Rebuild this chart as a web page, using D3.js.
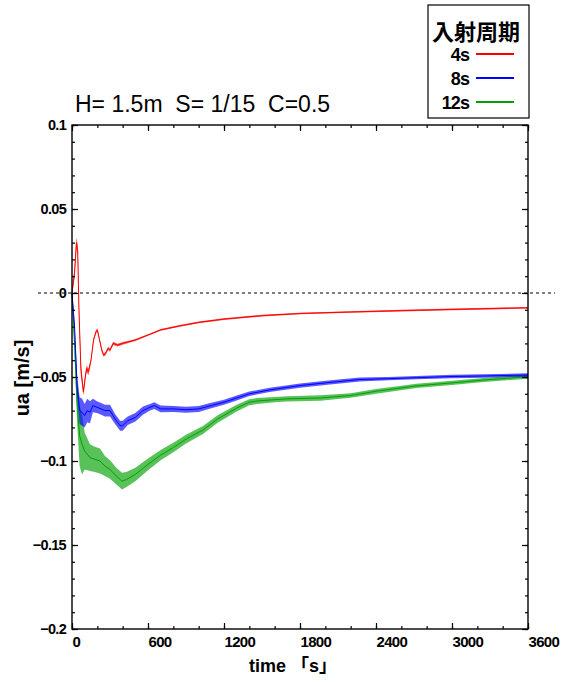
<!DOCTYPE html>
<html>
<head>
<meta charset="utf-8">
<script src="https://cdn.jsdelivr.net/npm/d3@7"></script>
<style>
  body { margin: 0; background: #fff; }
  svg { display: block; }
  text { font-family: "Liberation Sans", Arial, "Noto Sans CJK JP", sans-serif; }
</style>
</head>
<body>
<div id="chart"></div>
<script>
// --- data: [time s, ua m/s, noise half-width] ---
const xTicks = [0, 600, 1200, 1800, 2400, 3000, 3600];
const yTicks = [-0.2, -0.15, -0.1, -0.05, 0, 0.05, 0.1];

const red4s = [
  [0, 0, 0.001], [20, 0.012, 0.003], [35, 0.03, 0.003], [45, 0.025, 0.004], [55, -0.01, 0.004],
  [70, -0.045, 0.004], [90, -0.059, 0.002], [105, -0.05, 0.002], [115, -0.045, 0.002],
  [130, -0.047, 0.002], [150, -0.04, 0.001], [170, -0.028, 0.001], [190, -0.023, 0.001],
  [200, -0.022, 0.001], [215, -0.027, 0.001], [235, -0.034, 0.001], [250, -0.037, 0.001],
  [265, -0.036, 0.001], [285, -0.033, 0.001], [300, -0.034, 0.001], [325, -0.030, 0.001],
  [360, -0.031, 0.0008], [400, -0.030, 0.0008], [450, -0.029, 0.0006], [500, -0.028, 0.0006],
  [600, -0.025, 0.0005], [700, -0.022, 0.0005], [850, -0.0196, 0.0005], [1000, -0.0175, 0.0005],
  [1200, -0.0155, 0.0005], [1500, -0.0135, 0.0005], [1800, -0.0122, 0.0005], [2200, -0.0113, 0.0005],
  [2600, -0.0105, 0.0005], [3000, -0.0098, 0.0005], [3300, -0.0093, 0.0005], [3600, -0.0088, 0.0005]
];

const blue8s = [
  [0, 0, 0.001], [20, -0.02, 0.003], [40, -0.055, 0.006], [60, -0.07, 0.008], [80, -0.071, 0.008],
  [100, -0.073, 0.007], [120, -0.07, 0.007], [142, -0.071, 0.0065], [165, -0.067, 0.004],
  [197, -0.068, 0.0035], [230, -0.069, 0.0035], [260, -0.07, 0.0035], [300, -0.07, 0.0035],
  [340, -0.075, 0.003], [380, -0.079, 0.003], [400, -0.079, 0.003], [440, -0.076, 0.0025],
  [500, -0.074, 0.0025], [560, -0.07, 0.0025], [616, -0.068, 0.002], [650, -0.067, 0.002],
  [700, -0.069, 0.002], [800, -0.069, 0.0018], [900, -0.0695, 0.0018], [1000, -0.069, 0.0018],
  [1100, -0.067, 0.0016], [1200, -0.065, 0.0015], [1300, -0.0625, 0.0015], [1400, -0.06, 0.0013],
  [1560, -0.0577, 0.0013], [1800, -0.0551, 0.0013], [2000, -0.0535, 0.0012], [2270, -0.0515, 0.0012],
  [2500, -0.051, 0.001], [2720, -0.0504, 0.001], [3000, -0.0497, 0.001], [3250, -0.0494, 0.001],
  [3600, -0.0488, 0.001]
];

const green12s = [
  [0, 0, 0.001], [20, -0.03, 0.005], [40, -0.065, 0.012], [60, -0.085, 0.018], [79, -0.09, 0.018],
  [100, -0.094, 0.011], [142, -0.098, 0.008], [180, -0.099, 0.0075], [221, -0.1, 0.0075],
  [260, -0.103, 0.006], [300, -0.105, 0.0055], [350, -0.109, 0.005], [395, -0.112, 0.005],
  [430, -0.111, 0.0045], [500, -0.108, 0.004], [600, -0.102, 0.0035], [700, -0.0965, 0.003],
  [800, -0.092, 0.0028], [900, -0.087, 0.0026], [1034, -0.0815, 0.0024], [1150, -0.075, 0.0022],
  [1300, -0.0685, 0.002], [1400, -0.065, 0.0018], [1460, -0.0643, 0.0018], [1600, -0.0635, 0.0016],
  [1700, -0.063, 0.0016], [1960, -0.0625, 0.0016], [2200, -0.061, 0.0014], [2400, -0.0585, 0.0014],
  [2720, -0.0553, 0.0013], [3000, -0.0535, 0.0013], [3250, -0.0518, 0.0012], [3600, -0.0498, 0.0012]
];

const seriesNames = ["4s", "8s", "12s"];
const seriesColors = ["#ff0000", "#0000ff", "#00a000"];
const seriesData = [red4s, blue8s, green12s];

// --- SVG setup ---
const width = 573, height = 682;
const plot = { left: 72, right: 528, top: 125, bottom: 629 };

const svg = d3.select("#chart").append("svg")
  .attr("width", width)
  .attr("height", height);

const x = d3.scaleLinear().domain([0, 3600]).range([plot.left, plot.right]);
const y = d3.scaleLinear().domain([-0.2, 0.1]).range([plot.bottom, plot.top]);

const yFmt = d3.format(".2~f");
const xFmt = d3.format("d");
const minorX = d3.range(0, 3601, 200);
const minorY = d3.range(-20, 11).map(d => d / 100);

// --- series (band for the noise, thin line on top) ---
const area = d3.area()
  .x(d => x(d[0]))
  .y0(d => y(d[1] - d[2]))
  .y1(d => y(d[1] + d[2]));

const line = d3.line()
  .x(d => x(d[0]))
  .y(d => y(d[1]));

const order = [2, 1, 0];
order.forEach(i => {
  svg.append("path")
    .datum(seriesData[i])
    .attr("d", area)
    .attr("fill", seriesColors[i])
    .attr("fill-opacity", 0.65);
  svg.append("path")
    .datum(seriesData[i])
    .attr("d", line)
    .attr("fill", "none")
    .attr("stroke", seriesColors[i])
    .attr("stroke-width", 1);
});

// --- zero line ---
svg.append("line")
  .attr("x1", 38).attr("x2", 555)
  .attr("y1", y(0)).attr("y2", y(0))
  .attr("stroke", "#000")
  .attr("stroke-width", 1)
  .attr("stroke-dasharray", "3,3");

// --- axes: ticks inside on all four sides ---
function styleAxis(g) {
  g.select(".domain").remove();
  g.selectAll(".tick line").attr("stroke", "#000").attr("stroke-width", 1.2);
}

svg.append("g")
  .attr("transform", `translate(0,${plot.bottom})`)
  .call(d3.axisBottom(x).tickValues(minorX).tickSize(-3).tickFormat(""))
  .call(styleAxis);
svg.append("g")
  .attr("transform", `translate(0,${plot.top})`)
  .call(d3.axisTop(x).tickValues(minorX).tickSize(-3).tickFormat(""))
  .call(styleAxis);
svg.append("g")
  .attr("transform", `translate(${plot.left},0)`)
  .call(d3.axisLeft(y).tickValues(minorY).tickSize(-3).tickFormat(""))
  .call(styleAxis);
svg.append("g")
  .attr("transform", `translate(${plot.right},0)`)
  .call(d3.axisRight(y).tickValues(minorY).tickSize(-3).tickFormat(""))
  .call(styleAxis);

const xAxis = svg.append("g")
  .attr("transform", `translate(0,${plot.bottom})`)
  .call(d3.axisBottom(x).tickValues(xTicks).tickSize(-6).tickPadding(7).tickFormat(xFmt))
  .call(styleAxis);
xAxis.selectAll(".tick text")
  .attr("text-anchor", "start")
  .attr("font-size", 15)
  .attr("font-weight", "bold")
  .attr("letter-spacing", -0.7)
  .attr("fill", "#000");

svg.append("g")
  .attr("transform", `translate(0,${plot.top})`)
  .call(d3.axisTop(x).tickValues(xTicks).tickSize(-6).tickFormat(""))
  .call(styleAxis);

const yAxis = svg.append("g")
  .attr("transform", `translate(${plot.left},0)`)
  .call(d3.axisLeft(y).tickValues(yTicks).tickSize(-6).tickPadding(6).tickFormat(yFmt))
  .call(styleAxis);
yAxis.selectAll(".tick text")
  .attr("font-size", 14.5)
  .attr("font-weight", "bold")
  .attr("letter-spacing", -0.7)
  .attr("fill", "#000");

svg.append("g")
  .attr("transform", `translate(${plot.right},0)`)
  .call(d3.axisRight(y).tickValues(yTicks).tickSize(-6).tickFormat(""))
  .call(styleAxis);

// --- frame ---
svg.append("rect")
  .attr("x", plot.left).attr("y", plot.top)
  .attr("width", plot.right - plot.left)
  .attr("height", plot.bottom - plot.top)
  .attr("fill", "none")
  .attr("stroke", "#000")
  .attr("stroke-width", 1.4);

// --- titles ---
svg.append("text")
  .attr("x", 75).attr("y", 112)
  .attr("font-size", 23)
  .style("white-space", "pre")
  .text("H= 1.5m  S= 1/15  C=0.5");

svg.append("text")
  .attr("transform", "translate(29,378) rotate(-90)")
  .attr("text-anchor", "middle")
  .attr("font-size", 20)
  .attr("font-weight", "bold")
  .text("ua [m/s]");

svg.append("text")
  .attr("x", 293).attr("y", 672)
  .attr("text-anchor", "middle")
  .attr("font-size", 18)
  .attr("font-weight", "bold")
  .style("white-space", "pre")
  .text("time 「s」");

// --- legend ---
const legend = svg.append("g");
legend.append("rect")
  .attr("x", 428).attr("y", 5)
  .attr("width", 101).attr("height", 113)
  .attr("fill", "#fff")
  .attr("stroke", "#000")
  .attr("stroke-width", 1.2);
legend.append("text")
  .attr("x", 476).attr("y", 40)
  .attr("text-anchor", "middle")
  .attr("font-family", "'Noto Sans CJK JP', sans-serif")
  .attr("font-size", 22)
  .attr("font-weight", "bold")
  .text("入射周期");

seriesNames.forEach((name, i) => {
  const cy = 54 + i * 24;
  legend.append("text")
    .attr("x", 469).attr("y", cy + 6.5)
    .attr("text-anchor", "end")
    .attr("font-size", 18)
    .attr("font-weight", "bold")
    .attr("letter-spacing", -0.9)
    .text(name);
  legend.append("line")
    .attr("x1", 476).attr("x2", 514)
    .attr("y1", cy).attr("y2", cy)
    .attr("stroke", seriesColors[i])
    .attr("stroke-width", 2);
});
</script>
</body>
</html>
